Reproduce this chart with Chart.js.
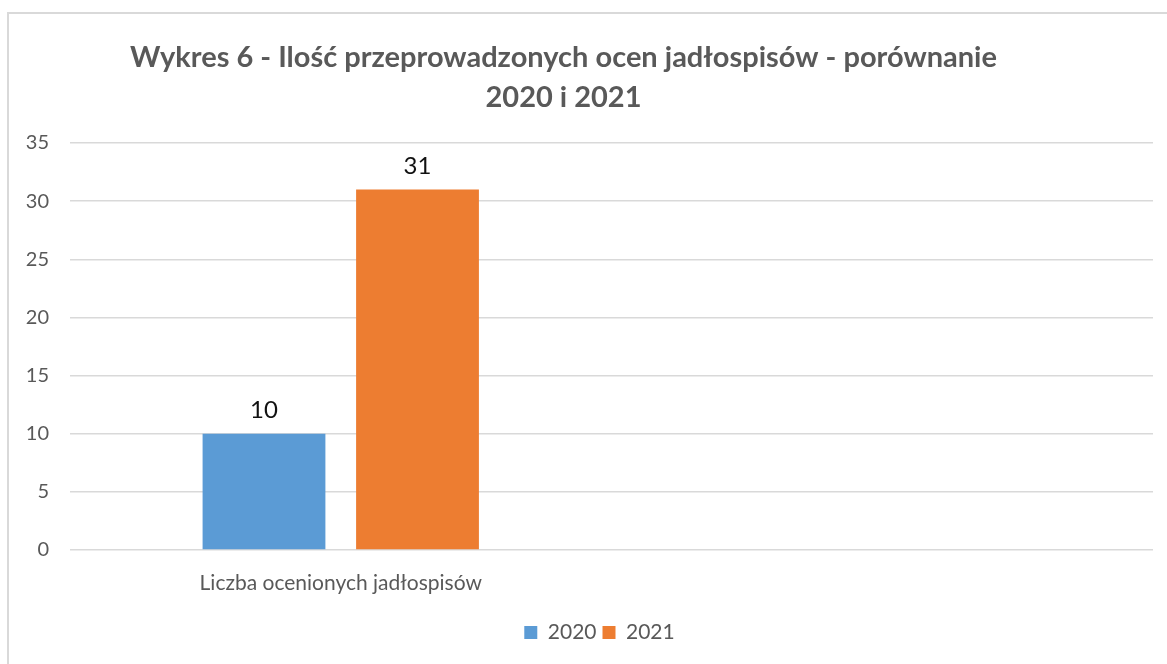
<!DOCTYPE html>
<html>
<head>
<meta charset="utf-8">
<script src="https://cdn.jsdelivr.net/npm/chart.js@4.4.0/dist/chart.umd.min.js"></script>
<style>
  body { margin: 0; background: #fff; }
  #wrap { position: relative; width: 1167px; height: 664px; overflow: hidden; }
  #frame { position: absolute; left: 7px; top: 12px; width: 1300px; height: 800px;
    border-left: 2px solid #d9d9d9; border-top: 2px solid #d9d9d9; pointer-events: none; }
</style>
</head>
<body>
<div id="wrap">
  <canvas id="myChart" width="1167" height="664"></canvas>
  <div id="frame"></div>
</div>
<script>
const categories = ['Liczba ocenionych jadłospisów', ''];
const values2020 = [10, null];
const values2021 = [31, null];
const yTicks = [0, 5, 10, 15, 20, 25, 30, 35];

const textColor = '#595959';
const fontName = 'Lato, "Open Sans", sans-serif';

// draws the value over each bar
const barValues = {
  id: 'barValues',
  afterDatasetsDraw(chart) {
    const ctx = chart.ctx;
    ctx.save();
    ctx.font = '24px ' + fontName;
    ctx.fillStyle = '#111';
    ctx.textAlign = 'center';
    ctx.textBaseline = 'bottom';
    chart.data.datasets.forEach((ds, i) => {
      chart.getDatasetMeta(i).data.forEach((bar, j) => {
        if (ds.data[j] == null) return;
        ctx.fillText(ds.data[j], bar.x, bar.y - 11);
      });
    });
    ctx.restore();
  }
};

// nudge title and legend sideways like the original layout
const nudge = {
  id: 'nudge',
  afterLayout(chart) {
    chart.titleBlock.left -= 13;
    chart.titleBlock.right -= 13;
    chart.legend.left += 23;
    chart.legend.right += 23;
  }
};

const chartLayout = document.getElementById('myChart');
const myChart = new Chart(chartLayout, {
  type: 'bar',
  data: {
    labels: categories,
    datasets: [{
      label: '2020',
      data: values2020,
      backgroundColor: '#5B9BD5',
      barPercentage: 0.8,
      categoryPercentage: 0.567
    },
    {
      label: '2021',
      data: values2021,
      backgroundColor: '#ED7D31',
      barPercentage: 0.8,
      categoryPercentage: 0.567
    }]
  },
  options: {
    responsive: false,
    animation: false,
    layout: {
      padding: { left: 0, right: 14, top: 14, bottom: 11 }
    },
    plugins: {
      title: {
        display: true,
        text: ['Wykres 6 - Ilość przeprowadzonych ocen jadłospisów - porównanie', '2020 i 2021'],
        color: textColor,
        font: { family: fontName, size: 29, weight: 'bold', lineHeight: 1.38 },
        padding: { top: 24, bottom: 25 }
      },
      legend: {
        position: 'bottom',
        labels: {
          color: textColor,
          font: { family: fontName, size: 21 },
          boxWidth: 13,
          boxHeight: 13,
          padding: 6
        }
      },
      tooltip: { enabled: false }
    },
    scales: {
      x: {
        grid: { display: false, drawTicks: false },
        border: { display: false },
        ticks: {
          color: textColor,
          font: { family: fontName, size: 21 },
          padding: 21,
          maxRotation: 0
        },
        afterFit(scale) { scale.height = 66; }
      },
      y: {
        min: 0,
        max: 35,
        afterBuildTicks(scale) { scale.ticks = yTicks.map(v => ({ value: v })); },
        grid: { color: '#d9d9d9', lineWidth: 1.5, drawTicks: false },
        border: { display: false },
        ticks: {
          color: textColor,
          font: { family: fontName, size: 20 },
          padding: 21
        },
        afterFit(scale) { scale.width = 70; }
      }
    }
  },
  plugins: [barValues, nudge]
});
</script>
</body>
</html>
